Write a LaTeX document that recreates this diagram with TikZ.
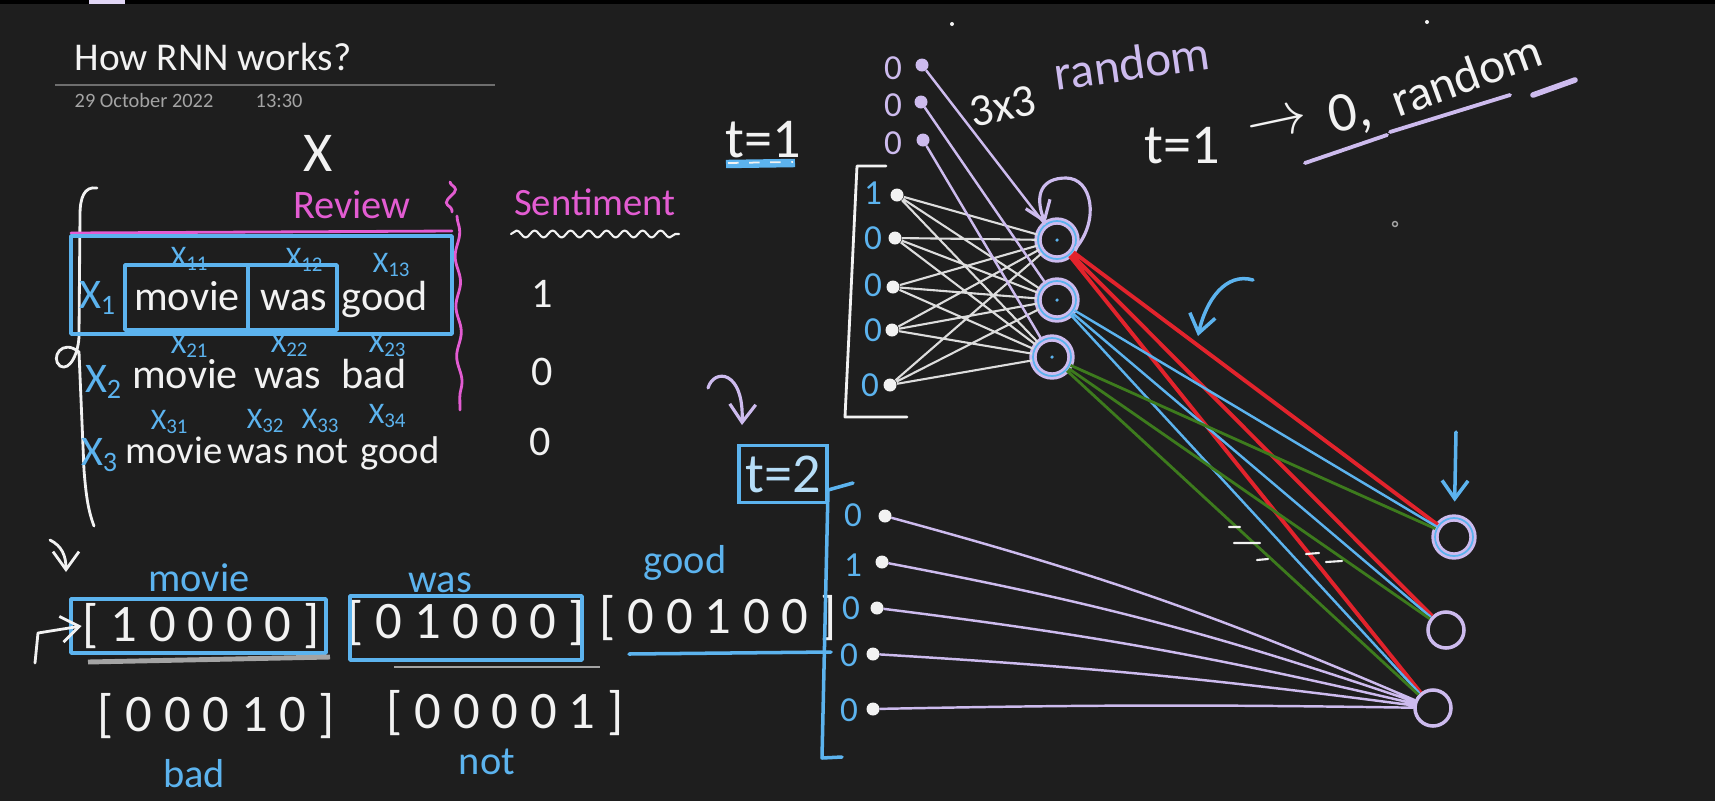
\documentclass[tikz,border=0pt]{standalone}
\usepackage{fontspec}
\setmainfont{Carlito}
\usetikzlibrary{arrows.meta,decorations.pathmorphing}

\definecolor{board}{HTML}{1E1E1E}
\definecolor{chalk}{HTML}{F2F2F2}
\definecolor{penblue}{HTML}{5CB3EE}
\definecolor{penpink}{HTML}{E35CD2}
\definecolor{penlav}{HTML}{CDBBEE}
\definecolor{penred}{HTML}{E2232C}
\definecolor{pengreen}{HTML}{3D7B1D}
\definecolor{pengray}{HTML}{A4A4A4}

\newcommand{\fsz}[1]{\fontsize{#1}{#1}\selectfont}

\begin{document}
\begin{tikzpicture}[x=0.1mm, y=-0.1mm,
    every node/.style={text=chalk, inner sep=0pt},
    hand/.style={font=\fsz{12}},
    tag/.style={text=penblue, font=\fsz{8.5}},
    vec/.style={font=\fsz{15}},
    note/.style={text=penblue, font=\fsz{11.5}},
    bit/.style={text=penblue, font=\fsz{10}},
    stroke/.style={draw=chalk, line width=0.8pt, line cap=round, line join=round},
    bluestroke/.style={draw=penblue, line width=1pt, line cap=round, line join=round},
    pinkstroke/.style={draw=penpink, line width=0.8pt, line cap=round},
    lavstroke/.style={draw=penlav, line width=0.7pt, line cap=round},
    mesh/.style={draw=chalk!90!board, line width=0.6pt},
    arrow/.style={-{Straight Barb[length=1.8mm, width=2.6mm]}},
    dot/.style={circle, fill=chalk, minimum size=1.3mm},
    lavdot/.style={circle, fill=penlav, minimum size=1.3mm},
    neuron/.style={circle, draw=penlav, line width=0.8pt, double=penblue, double distance=0.5pt, minimum size=3.8mm,
      path picture={\fill[penblue] (path picture bounding box.center) circle (0.5pt);}},
    outneuron/.style={circle, draw=penlav, line width=1pt, minimum size=3.6mm}
  ]

  % --- board ---
  \fill[board] (0,0) rectangle (1715,801);
  \fill[black] (0,0) rectangle (1715,4);
  \fill[penlav!60!white] (89,0) rectangle (125,4);
  \fill[chalk] (952,24) circle (0.2mm);
  \fill[chalk] (1427,22) circle (0.2mm);
  \draw[pengray, line width=0.4pt] (1395,224) circle (0.25mm);

  % --- page header ---
  \node[anchor=base west, font=\fsz{11.2}] (title) at (74,70) {How RNN works?};
  \draw[pengray!60!board, line width=0.6pt] (55,85) -- (495,85);
  \node[anchor=base west, text=pengray, font=\fsz{5.8}] (date) at (74,107) {29 October 2022};
  \node[anchor=base west, text=pengray, font=\fsz{5.8}] (time) at (255,107) {13:30};

  % --- dataset ---
  \node[font=\fsz{16}] (X) at (318,153) {X};
  \draw[stroke] (97,188) .. controls (84,186) and (80,198) .. (80,215) -- (79,335)
    .. controls (79,352) and (70,372) .. (60,366) .. controls (50,358) and (62,338) .. (79,352)
    -- (84,470) .. controls (86,495) and (88,510) .. (94,526);
  \node[text=penpink, font=\fsz{11.5}] (review) at (352,205) {Review};
  \node[text=penpink, font=\fsz{11}] (senti) at (595,202) {Sentiment};
  \draw[stroke, line width=0.6pt, decorate, decoration={snake, amplitude=0.35mm, segment length=1.8mm}] (511,234) -- (679,234);
  \draw[pinkstroke, decorate, decoration={snake, amplitude=0.5mm, segment length=2.5mm}] (450,182) -- (452,212);
  \draw[pinkstroke, decorate, decoration={snake, amplitude=0.25mm, segment length=5mm}] (457,216) -- (460,410);
  \draw[pinkstroke] (71,233) -- (452,231);

  % --- row 1 (boxed) ---
  \draw[bluestroke] (71,236) rectangle (452,334);
  \draw[bluestroke] (125,265) rectangle (248,330);
  \draw[bluestroke] (248,265) rectangle (337,330);
  \node[hand, text=penblue, anchor=base] (x1) at (98,308) {X\textsubscript{1}};
  \node[hand, anchor=base] (w11) at (187,310) {movie};
  \node[hand, anchor=base] (w12) at (294,310) {was};
  \node[hand, anchor=base] (w13) at (385,310) {good};
  \node[tag] (t11) at (190,259) {X\textsubscript{11}};
  \node[tag] (t12) at (305,260) {X\textsubscript{12}};
  \node[tag] (t13) at (392,265) {X\textsubscript{13}};
  \node[hand] (y1) at (542,294) {1};

  % --- row 2 ---
  \node[hand, text=penblue, anchor=base] (x2) at (104,392) {X\textsubscript{2}};
  \node[hand, anchor=base] (w21) at (185,388) {movie};
  \node[hand, anchor=base] (w22) at (288,388) {was};
  \node[hand, anchor=base] (w23) at (374,388) {bad};
  \node[tag] (t21) at (190,346) {X\textsubscript{21}};
  \node[tag] (t22) at (290,345) {X\textsubscript{22}};
  \node[tag] (t23) at (388,345) {X\textsubscript{23}};
  \node[hand] (y2) at (542,372) {0};

  % --- row 3 ---
  \node[hand, text=penblue, anchor=base] (x3) at (100,465) {X\textsubscript{3}};
  \node[font=\fsz{11}, anchor=base] (w31) at (174,463) {movie};
  \node[font=\fsz{11}, anchor=base] (w32) at (258,463) {was};
  \node[font=\fsz{11}, anchor=base] (w33) at (322,463) {not};
  \node[font=\fsz{11}, anchor=base] (w34) at (400,463) {good};
  \node[tag] (t31) at (170,422) {X\textsubscript{31}};
  \node[tag] (t32) at (266,421) {X\textsubscript{32}};
  \node[tag] (t33) at (321,421) {X\textsubscript{33}};
  \node[tag] (t34) at (388,416) {X\textsubscript{34}};
  \node[hand] (y3) at (540,442) {0};

  % --- one-hot vectors ---
  \node[vec] (v1) at (201,626) {[ 1 0 0 0 0 ]};
  \node[vec] (v2) at (466,623) {[ 0 1 0 0 0 ]};
  \node[vec] (v3) at (718,618) {[ 0 0 1 0 0 ]};
  \node[vec] (v4) at (216,716) {[ 0 0 0 1 0 ]};
  \node[vec] (v5) at (505,713) {[ 0 0 0 0 1 ]};
  \draw[bluestroke] (71,599) rectangle (326,653);
  \draw[bluestroke] (350,596) rectangle (582,660);
  \draw[bluestroke] (629,654) -- (831,652);
  \draw[pengray, line width=1.4pt] (88,662) -- (330,657);
  \draw[pengray, line width=0.6pt] (394,667) -- (600,667);
  \node[note] (lmovie) at (199,578) {movie};
  \node[note] (lwas) at (440,583) {was};
  \node[note] (lgood) at (685,563) {good};
  \node[note] (lbad) at (194,774) {bad};
  \node[note] (lnot) at (487,762) {not};
  \draw[stroke, arrow] (50,540) .. controls (62,546) and (66,556) .. (66,572);
  \draw[stroke, arrow] (35,663) -- (38,633) -- (v1.west);

  % --- t = 1 ---
  \node[font=\fsz{16}] (step1) at (763,140) {t=1};
  \draw[penblue, line width=2.4pt] (726,164) -- (795,163);
  \draw[chalk, line width=0.5pt, dashed] (728,163) -- (793,162);
  \draw[stroke] (886,166) -- (857,166) -- (845,417) -- (907,417);
  \node[bit] (b1) at (873,193) {1};
  \node[bit] (b2) at (873,238) {0};
  \node[bit] (b3) at (873,285) {0};
  \node[bit] (b4) at (873,330) {0};
  \node[bit] (b5) at (870,385) {0};
  \node[dot] (i1) at (897,195) {};
  \node[dot] (i2) at (895,238) {};
  \node[dot] (i3) at (893,287) {};
  \node[dot] (i4) at (892,330) {};
  \node[dot] (i5) at (890,385) {};

  % --- hidden state at t = 1 ---
  \node[text=penlav, font=\fsz{10}] (s1) at (893,68) {0};
  \node[text=penlav, font=\fsz{10}] (s2) at (893,105) {0};
  \node[text=penlav, font=\fsz{10}] (s3) at (893,143) {0};
  \node[lavdot] (d1) at (922,65) {};
  \node[lavdot] (d2) at (921,102) {};
  \node[lavdot] (d3) at (923,140) {};
  \node[font=\fsz{13}, rotate=12] (size) at (1003,106) {3x3};
  \node[text=penlav, font=\fsz{14}, rotate=8] (rnd) at (1132,63) {random};

  \node[neuron] (h1) at (1057,240) {};
  \node[neuron] (h2) at (1057,300) {};
  \node[neuron] (h3) at (1052,357) {};

  \draw[mesh] (i1) -- (h1) (i1) -- (h2) (i1) -- (h3)
              (i2) -- (h1) (i2) -- (h2) (i2) -- (h3)
              (i3) -- (h1) (i3) -- (h2) (i3) -- (h3)
              (i4) -- (h1) (i4) -- (h2) (i4) -- (h3)
              (i5) -- (h1) (i5) -- (h2) (i5) -- (h3);
  \draw[lavstroke] (d1) -- (h1) (d2) -- (h2) (d3) -- (h3);
  \draw[lavstroke, line width=0.9pt, arrow] (h1.-25) .. controls (1100,220) and (1092,178) .. (1066,178)
    .. controls (1042,178) and (1034,194) .. (h1.125);

  % --- note on initial state ---
  \node[font=\fsz{16}] (step1b) at (1182,146) {t=1};
  \node[font=\fsz{18}, rotate=12] (gives) at (1278,125) {$\rightarrow$};
  \node[font=\fsz{16}, rotate=12] (zero) at (1350,115) {0,};
  \node[font=\fsz{14}, rotate=20] (rnd2) at (1466,75) {random};
  \draw[lavstroke, line width=1.1pt] (1305,163) -- (1387,135) (1390,132) -- (1510,95);
  \draw[lavstroke, line width=1.6pt] (1533,95) -- (1575,80);

  % --- t = 2 ---
  \draw[lavstroke, line width=0.9pt, arrow] (708,388) .. controls (714,368) and (744,370) .. (742,425);
  \node[draw=penblue, line width=1pt, text=penblue!45!white, font=\fsz{16}, minimum width=8.8mm, minimum height=5.7mm] (step2) at (783,474) {t=2};
  \draw[bluestroke] (853,483) -- (828,490) -- (822,758) -- (842,757);
  \node[bit] (c1) at (853,515) {0};
  \node[bit] (c2) at (853,565) {1};
  \node[bit] (c3) at (851,608) {0};
  \node[bit] (c4) at (849,655) {0};
  \node[bit] (c5) at (849,710) {0};
  \node[dot] (j1) at (885,516) {};
  \node[dot] (j2) at (882,562) {};
  \node[dot] (j3) at (877,608) {};
  \node[dot] (j4) at (873,654) {};
  \node[dot] (j5) at (873,709) {};

  % --- output layer ---
  \node[neuron, path picture={}] (o1) at (1454,537) {};
  \node[outneuron] (o2) at (1446,630) {};
  \node[outneuron] (o3) at (1433,708) {};

  \draw[penred, line width=1.1pt] (h1) -- (o1) (h1) -- (o2) (h1) -- (o3);
  \draw[penblue, line width=0.7pt] (h2) -- (o1) (h2) -- (o2) (h2) -- (o3);
  \draw[pengreen, line width=0.8pt] (h3) -- (o1) (h3) -- (o2) (h3) -- (o3);
  \draw[lavstroke] (j1) to[bend left=4] (o3) (j2) to[bend left=4] (o3)
                   (j3) to[bend left=3] (o3) (j4) to[bend left=2] (o3) (j5) to[bend left=1] (o3);
  \draw[stroke, line width=0.6pt] (1229,527) -- (1240,527) (1234,543) -- (1260,543) (1257,560) -- (1268,559)
                                  (1306,554) -- (1319,553) (1326,562) -- (1342,561);

  % --- pointers ---
  \draw[bluestroke, arrow] (1253,280) .. controls (1226,272) and (1206,300) .. (1198,336);
  \coordinate (aim) at (1456,432);
  \draw[bluestroke, arrow, shorten >=1.5mm] (aim) -- (o1);

\end{tikzpicture}
\end{document}
